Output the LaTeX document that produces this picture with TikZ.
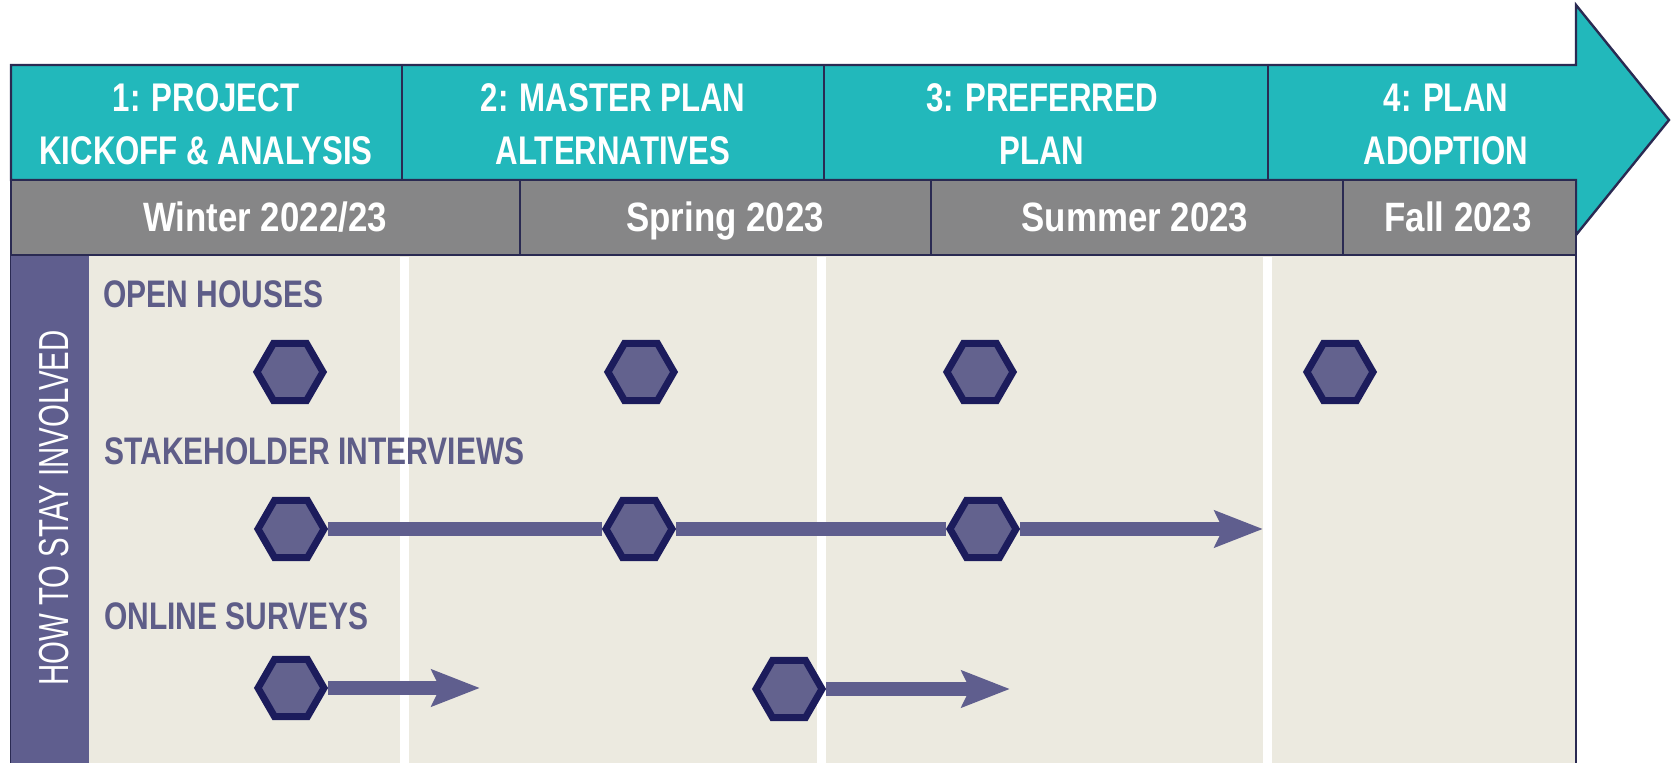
\documentclass[tikz,border=0pt]{standalone}
\usepackage{fontspec}
\setmainfont{Liberation Sans}
\newfontfamily\narrowfont[FakeStretch=0.78]{Liberation Sans}
\newfontfamily\seasonfont[FakeStretch=0.85]{Liberation Sans}
\newfontfamily\sidefont[FakeStretch=0.7]{Liberation Sans}
\usetikzlibrary{shapes.geometric}
\usetikzlibrary{arrows.meta}
\usetikzlibrary{positioning}

\definecolor{phaseteal}{RGB}{34,184,187}
\definecolor{seasongray}{RGB}{134,134,135}
\definecolor{bodybeige}{RGB}{236,234,224}
\definecolor{sidepurple}{RGB}{95,94,142}
\definecolor{hexfill}{RGB}{99,98,142}
\definecolor{hexline}{RGB}{28,28,92}
\definecolor{edgenavy}{RGB}{42,42,82}
\definecolor{labelpurple}{RGB}{94,93,136}

\begin{document}
\begin{tikzpicture}[x=0.5pt,y=-0.5pt,>={Stealth[length=24pt,width=18pt,inset=4pt]},
	frame/.style={draw=edgenavy,line width=1.2pt},
	phase node/.style={align=center,text=white,font=\narrowfont\bfseries\fontsize{20}{26.5}\selectfont},
	season node/.style={anchor=base,text=white,font=\seasonfont\bfseries\fontsize{20.5}{24}\selectfont},
	row label/.style={anchor=base west,inner sep=0pt,text=labelpurple,font=\narrowfont\bfseries\fontsize{19.2}{23}\selectfont},
	hex node/.style={regular polygon,regular polygon sides=6,minimum size=33pt,inner sep=0pt,
		fill=hexfill,draw=hexline,line width=3.5pt},
	flow/.style={draw=sidepurple,line width=7pt}]
	
	\useasboundingbox (0,0) rectangle (1672,763);
	
	% phase arrow and seasons
	\path[frame,fill=phaseteal] (11,65) -- (1576,65) -- (1576,5) -- (1669,120)
		-- (1576,235) -- (1576,180) -- (11,180) -- cycle;
	\foreach \x in {402,824,1268}
		\draw[frame] (\x,65) -- (\x,180);
	\draw[frame,fill=seasongray] (11,180) rectangle (1576,255);
	\foreach \x in {520,931,1343}
		\draw[frame] (\x,180) -- (\x,255);
	
	% body
	\draw[frame,fill=bodybeige] (11,255) rectangle (1576,775);
	\fill[sidepurple] (11,256) rectangle (89,763);
	\foreach \x in {404,821,1267}
		\fill[white] (\x-4.5,257) rectangle (\x+4.5,763);
	
	\node[phase node] (p1) at (206,124) {1: PROJECT\\KICKOFF \& ANALYSIS};
	\node[phase node] (p2) at (613,124) {2: MASTER PLAN\\ALTERNATIVES};
	\node[phase node] (p3) at (1042,124) {3: PREFERRED\\PLAN};
	\node[phase node] (p4) at (1446,124) {4: PLAN\\ADOPTION};
	
	\node[season node] (s1) at (265,232) {Winter 2022/23};
	\node[season node] (s2) at (725,232) {Spring 2023};
	\node[season node] (s3) at (1135,232) {Summer 2023};
	\node[season node] (s4) at (1458,232) {Fall 2023};
	
	\node[rotate=90,text=white,font=\sidefont\fontsize{21}{24}\selectfont] (side) at (54,508) {HOW TO STAY INVOLVED};
	
	\node[row label] (open) at (103,308) {OPEN HOUSES};
	\node[row label] (stake) at (104,465) {STAKEHOLDER INTERVIEWS};
	\node[row label] (online) at (104,630) {ONLINE SURVEYS};
	
	\node[hex node] (oh1) at (290,372) {};
	\node[hex node] (oh2) at (641,372) {};
	\node[hex node] (oh3) at (980,372) {};
	\node[hex node] (oh4) at (1340,372) {};
	
	\node[hex node] (si1) at (291,529) {};
	\node[hex node] (si2) at (639,529) {};
	\node[hex node] (si3) at (983,529) {};
	\coordinate (si end) at (1263,529);
	
	\node[hex node] (os1) at (291,688) {};
	\node[hex node] (os2) at (789,689) {};
	\coordinate (os1 end) at (480,688);
	\coordinate (os2 end) at (1010,689);
	
	\path[flow]
	(si1) edge (si2)
	(si2) edge (si3)
	(si3) edge [->] (si end)
	(os1) edge [->] (os1 end)
	(os2) edge [->] (os2 end);
\end{tikzpicture}
\end{document}
